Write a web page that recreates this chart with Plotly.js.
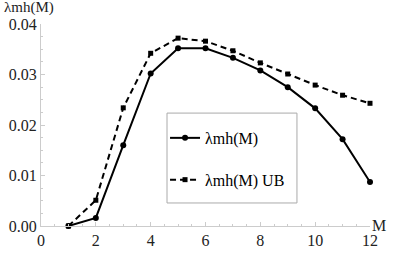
<!DOCTYPE html>
<html><head><meta charset="utf-8">
<script src="https://cdn.plot.ly/plotly-3.0.1.min.js"></script>
<style>html,body{margin:0;padding:0;background:#fff;}#chart{width:407px;height:253px;}</style>
</head><body><div id="chart"></div>
<script>
const M = [1,2,3,4,5,6,7,8,9,10,11,12];
const lambdaMH = [0.0000,0.0016,0.0160,0.0302,0.0352,0.0352,0.0333,0.0308,0.0275,0.0233,0.0172,0.0087];
const lambdaMHUB = [0.0000,0.0051,0.0234,0.0342,0.0372,0.0366,0.0347,0.0323,0.0301,0.0279,0.0259,0.0243];
const seriesNames = ['λmh(M)','λmh(M) UB'];
const xTicks = [0,2,4,6,8,10,12];
const yTicks = [0,0.01,0.02,0.03,0.04];
const yTickText = ['0.00','0.01','0.02','0.03','0.04'];

const F = '"Liberation Serif", "Times New Roman", serif';
const axisCol = '#cccccc';

const traces = [
  {x:M, y:lambdaMH, name:seriesNames[0], type:'scatter', mode:'lines+markers', legendgroup:'a',
   line:{color:'#000', width:2}, marker:{symbol:'circle', size:6, color:'#000'}, cliponaxis:false},
  {x:M, y:lambdaMHUB, name:seriesNames[1], type:'scatter', mode:'lines+markers', legendgroup:'b',
   line:{color:'#000', width:2, dash:'6px,4px'}, marker:{symbol:'square', size:5, color:'#000'}, cliponaxis:false}
];

const layout = {
  width:407, height:253,
  margin:{l:41, r:37, t:24, b:27},
  paper_bgcolor:'#fff', plot_bgcolor:'#fff',
  font:{family:F, size:16, color:'#222'},
  showlegend:true,
  legend:{x:0.377, y:0.52, xanchor:'left', yanchor:'top', borderwidth:0,
          bgcolor:'rgba(0,0,0,0)', font:{family:F, size:16, color:'#000'}, tracegroupgap:18, traceorder:'grouped',
          itemwidth:30},
  shapes:[
    {type:'rect', xref:'paper', yref:'paper', x0:0.383, x1:0.778, y0:0.114, y1:0.559,
     line:{color:'#aaaaaa', width:1}, fillcolor:'#fff', layer:'above'}
  ],
  xaxis:{range:[0,12], tickvals:xTicks, ticktext:xTicks.map(String), showgrid:false, zeroline:false,
         showline:true, linecolor:axisCol, linewidth:1, ticks:'inside', ticklen:4, tickcolor:axisCol,
         minor:{dtick:0.5, ticks:'inside', ticklen:2, tickcolor:axisCol, showgrid:false},
         tickfont:{family:F, size:16, color:'#222'}},
  yaxis:{range:[0,0.04], tickvals:yTicks, ticktext:yTickText, showgrid:false, zeroline:false,
         showline:true, linecolor:axisCol, linewidth:1, ticks:'inside', ticklen:4, tickcolor:axisCol,
         minor:{dtick:0.0025, ticks:'inside', ticklen:2, tickcolor:axisCol, showgrid:false},
         tickfont:{family:F, size:16, color:'#222'}},
  annotations:[
    {text:'λmh(M)', xref:'paper', yref:'paper', x:-0.118, y:1.0, yshift:6, xanchor:'left', yanchor:'bottom', showarrow:false,
     font:{family:F, size:15, color:'#222'}},
    {text:'M', xref:'paper', yref:'paper', x:1.0, y:-0.05, xanchor:'left', yanchor:'bottom', showarrow:false,
     font:{family:F, size:16, color:'#222'}}
  ]
};
Plotly.newPlot('chart', traces, layout, {displayModeBar:false, staticPlot:true});
</script></body></html>
